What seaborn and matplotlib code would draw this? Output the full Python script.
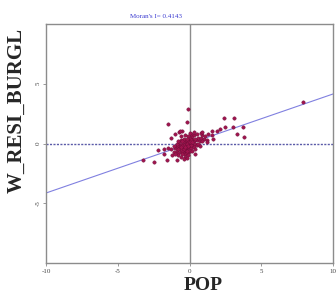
import matplotlib
matplotlib.use("Agg")
import matplotlib.pyplot as plt
import seaborn as sns
import pandas as pd

moran_i = 0.4143
x_ticks = [-10, -5, 0, 5, 10]
y_ticks = [-5, 0, 5]

pop = [-0.3, -0.2, -0.4, -0.1, 0.0, -0.5, -0.6, -0.3, -0.2, -0.7,
       0.1, 0.2, -0.4, -0.8, -0.1, 0.3, -0.6, -0.3, 0.0, -0.5,
       -0.9, 0.2, -0.2, 0.4, -0.7, -0.4, -0.1, 0.1, -1.0, 0.5,
       -0.3, -0.8, 0.3, -0.6, 0.0, -0.2, -0.5, 0.6, -1.1, 0.2,
       -0.4, -0.1, 0.1, -0.3, -0.7, 0.4, -0.9, -0.2, 0.0, -0.6,
       0.7, 0.8, -0.5, -1.2, -0.8, 0.3, -0.4, 0.5, -0.1, 0.9,
       -0.6, -0.3, 0.1, -0.2, 0.6, 1.0, -1.0, -0.7, 0.2, -0.5,
       1.1, 1.3, 0.8, -0.9, -1.3, 0.4, -0.1, 0.0, -0.3, 0.5,
       1.2, 0.7, -0.8, -1.1, 0.3, -0.2, -0.4, 0.9, -0.6, 0.1,
       -0.2, -0.4, -0.1, 0.0, -0.5, -0.3, -0.6, -0.2, 0.2, -0.8,
       -0.13, -0.15, -1.48, 2.4, 3.1, 3.05, 3.7, 3.3, 3.8, -3.26,
       -2.5, -1.6, -0.9, -2.17, -1.8, 0.38, 1.9, 1.55, 2.1, 1.66,
       1.2, 0.85, -0.54, -1.0, 7.93, -1.3, -0.7, 1.6, 2.5, -1.5,
       -1.8, -0.66]
w_resi_burgl = [-0.2, -0.1, -0.3, 0.0, -0.2, -0.4, -0.2, 0.1, -0.5, -0.5,
                0.1, -0.1, 0.2, -0.3, -0.4, 0.2, -0.7, -0.6, 0.3, 0.0,
                -0.6, 0.4, 0.2, 0.0, -0.1, -0.8, -0.7, -0.4, -0.4, 0.3,
                -0.9, -0.8, -0.3, 0.3, 0.5, -0.3, -0.6, 0.5, -0.7, 0.6,
                -0.1, 0.1, -0.1, -0.4, -0.3, 0.4, -0.2, -0.8, -0.6, -0.5,
                0.2, 0.5, -0.9, -1.0, -1.0, 0.7, 0.4, -0.1, 0.6, 0.7,
                -1.1, -1.1, 0.8, 0.4, 0.0, 0.4, -0.9, 0.1, -0.6, 0.2,
                0.6, 0.8, 0.9, 0.0, -0.5, -0.5, -1.0, 0.9, 0.7, 0.8,
                0.3, -0.2, 0.2, -0.2, 1.0, -1.2, -1.3, 0.2, 0.6, 0.3,
                0.0, -0.5, -0.2, 0.1, -0.2, -0.3, -0.3, -0.6, 0.1, -0.5,
                2.9, 1.78, 1.6, 2.13, 2.16, 1.34, 1.34, 0.8, 0.57, -1.39,
                -1.56, -1.34, -1.4, -0.52, -0.44, -0.85, 1.07, 1.07, 1.2, 0.38,
                0.1, 0.93, 1.07, 0.8, 3.5, 0.45, 0.95, 0.7, 1.4, -0.4,
                -0.85, 1.07]

df = pd.DataFrame({"POP": pop, "W_RESI_BURGL": w_resi_burgl})

sns.set_style("white")
plt.rcParams['font.family'] = ['Liberation Serif', 'DejaVu Serif']

fig = plt.figure(figsize=(3.36, 2.93), dpi=100)
ax = fig.add_axes([46/336, 1-263/293, (333-46)/336, (263-24)/293])

ax.axvline(0, color="#8c8c8c", lw=1.0, zorder=1)
ax.axhline(0, color="#5a5aa8", lw=1.0, ls=(0, (1.5, 1)), zorder=1)
ax.axline((0, 0), slope=moran_i, color="#8080e0", lw=0.8, zorder=2)

sns.scatterplot(data=df, x="POP", y="W_RESI_BURGL", ax=ax, s=6,
                color="#a0144e", edgecolor="#6b0c36", linewidth=0.3, zorder=3)

ax.set_xlim(-10, 10)
ax.set_ylim(-10, 10)
ax.set_xticks(x_ticks)
ax.set_xticklabels([str(t) for t in x_ticks], fontsize=5, color="#444444")
ax.set_yticks(y_ticks)
ax.set_yticklabels([str(t) for t in y_ticks], fontsize=5, color="#444444",
                   rotation=90, va="center")
ax.tick_params(axis="both", length=2, width=0.6, color="#888888", pad=2,
               direction="out", bottom=True, left=True)
for sp in ax.spines.values():
    sp.set_color("#8c8c8c")
    sp.set_linewidth(1.0)
ax.set_xlabel("")
ax.set_ylabel("")

fig.text(203/336, 1-286/293, "POP", fontsize=14, fontweight="bold",
         ha="center", va="center")
fig.text(17/336, 1-110/293, "W_RESI_BURGL", fontsize=15, fontweight="bold",
         rotation=90, ha="center", va="center")
fig.text(156/336, 1-17/293, "Moran's I= 0.4143", fontsize=5, color="#3a3ad0",
         ha="center", va="center")

fig.savefig("out.png", dpi=100)
